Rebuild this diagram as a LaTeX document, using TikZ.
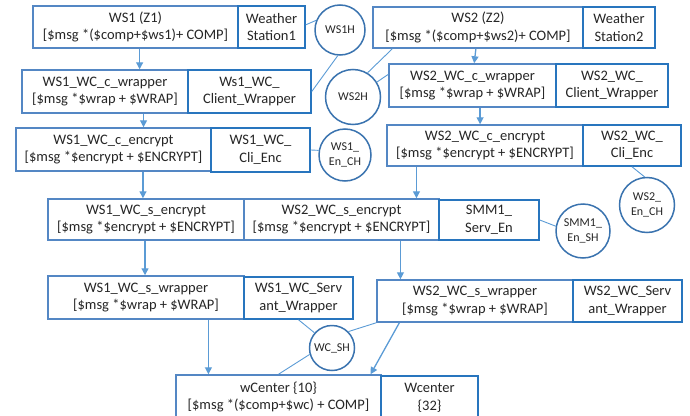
\documentclass[tikz,border=0pt]{standalone}
\usepackage{fontspec}
\setmainfont{Carlito}
\usetikzlibrary{calc,arrows.meta}
\definecolor{leftc}{RGB}{84,135,196}
\definecolor{rightc}{RGB}{40,117,190}
\definecolor{circc}{RGB}{58,115,175}
\definecolor{arrc}{RGB}{91,155,213}
\tikzset{
  lbox/.style={draw=leftc,line width=1.5pt,fill=white,align=center,inner sep=0pt,text=black!85,font=\fontsize{14.5}{17.5}\selectfont},
  rbox/.style={draw=rightc,line width=1.5pt,fill=white,align=center,inner sep=0pt,text=black!85,font=\fontsize{14.5}{17.5}\selectfont},
  circ/.style={draw=circc,line width=1.5pt,circle,fill=white,align=center,inner sep=0pt,text=black!85,font=\fontsize{12}{14.5}\selectfont},
  arr/.style={draw=arrc,line width=1.3pt,-{Triangle[length=7pt,width=7pt]}},
  lnk/.style={draw=arrc,line width=0.9pt}
}
\begin{document}
\begin{tikzpicture}[x=1pt,y=-1pt]
\useasboundingbox (0,0) rectangle (690,415);
% row 1
\node[lbox,minimum width=205pt,minimum height=42pt] (ws1) at (135.5,27) {WS1 (Z1)\\{[}\$msg *(\$comp+\$ws1)+ COMP{]}};
\node[rbox,minimum width=67pt,minimum height=42pt] (ws1st) at (271.5,27) {Weather\\Station1};
\node[circ,minimum size=50pt] (ws1h) at (340,30) {WS1H};
\node[lbox,minimum width=210pt,minimum height=41pt] (ws2) at (478,27.5) {WS2 (Z2)\\{[}\$msg *(\$comp+\$ws2)+ COMP{]}};
\node[rbox,minimum width=72pt,minimum height=41pt] (ws2st) at (619,27.5) {Weather\\Station2};
% row 2
\node[lbox,minimum width=166pt,minimum height=43pt] (c1wrap) at (105,91.5) {WS1\_WC\_c\_wrapper\\{[}\$msg *\$wrap + \$WRAP{]}};
\node[rbox,minimum width=123pt,minimum height=43pt] (c1cl) at (249.5,91.5) {Ws1\_WC\_\\Client\_Wrapper};
\node[circ,minimum size=55pt] (ws2h) at (353,97) {WS2H};
\node[lbox,minimum width=167pt,minimum height=43pt] (c2wrap) at (472.5,85.5) {WS2\_WC\_c\_wrapper\\{[}\$msg *\$wrap + \$WRAP{]}};
\node[rbox,minimum width=112pt,minimum height=43pt] (c2cl) at (612,85.5) {WS2\_WC\_\\Client\_Wrapper};
% row 3
\node[lbox,minimum width=195pt,minimum height=43pt] (c1enc) at (113.5,149.5) {WS1\_WC\_c\_encrypt\\{[}\$msg *\$encrypt + \$ENCRYPT{]}};
\node[rbox,minimum width=99pt,minimum height=44pt] (c1cli) at (260.5,150) {WS1\_WC\_\\Cli\_Enc};
\node[circ,minimum size=52pt] (ws1ench) at (345,155) {WS1\_\\En\_CH};
\node[lbox,minimum width=196pt,minimum height=41pt] (c2enc) at (485,145.5) {WS2\_WC\_c\_encrypt\\{[}\$msg *\$encrypt + \$ENCRYPT{]}};
\node[rbox,minimum width=98pt,minimum height=41pt] (c2cli) at (632,145.5) {WS2\_WC\_\\Cli\_Enc};
\node[circ,minimum size=55pt] (ws2ench) at (647,205) {WS2\_\\En\_CH};
% row 4
\node[lbox,minimum width=196pt,minimum height=41pt] (s1enc) at (146,219.5) {WS1\_WC\_s\_encrypt\\{[}\$msg *\$encrypt + \$ENCRYPT{]}};
\node[lbox,minimum width=195pt,minimum height=41pt] (s2enc) at (341.5,219.5) {WS2\_WC\_s\_encrypt\\{[}\$msg *\$encrypt + \$ENCRYPT{]}};
\node[rbox,minimum width=100pt,minimum height=40pt] (smm1) at (489,220) {SMM1\_\\Serv\_En};
\node[circ,minimum size=54pt] (smm1sh) at (583,231) {SMM1\_\\En\_SH};
% row 5
\node[lbox,minimum width=196pt,minimum height=43pt] (s1wrap) at (146,297.5) {WS1\_WC\_s\_wrapper\\{[}\$msg *\$wrap + \$WRAP{]}};
\node[rbox,minimum width=109pt,minimum height=42pt] (s1serv) at (298.5,298) {WS1\_WC\_Serv\\ant\_Wrapper};
\node[lbox,minimum width=196pt,minimum height=42pt] (s2wrap) at (475,301) {WS2\_WC\_s\_wrapper\\{[}\$msg *\$wrap + \$WRAP{]}};
\node[rbox,minimum width=109pt,minimum height=42pt] (s2serv) at (627.5,301) {WS2\_WC\_Serv\\ant\_Wrapper};
\node[circ,minimum size=45pt] (wcsh) at (332,348) {WC\_SH};
% row 6
\node[lbox,minimum width=205pt,minimum height=44pt] (wc) at (278.5,397) {wCenter \{10\}\\{[}\$msg *(\$comp+\$wc) + COMP{]}};
\node[rbox,minimum width=97pt,minimum height=44pt] (wc32) at (429.5,398) {Wcenter\\\{32\}};
% arrows
\coordinate (a1) at ($(ws1.south west)!0.52!(ws1.south east)$);
\draw[arr] (a1) -- (a1 |- c1wrap.north);
\coordinate (a2) at ($(c1wrap.south west)!0.73!(c1wrap.south east)$);
\draw[arr] (a2) -- (a2 |- c1enc.north);
\coordinate (a3) at ($(c1enc.south west)!0.65!(c1enc.south east)$);
\draw[arr] (a3) -- (a3 |- s1enc.north);
\coordinate (a4) at ($(s1enc.south west)!0.495!(s1enc.south east)$);
\draw[arr] (a4) -- (a4 |- s1wrap.north);
\coordinate (a5) at ($(s1wrap.south west)!0.816!(s1wrap.south east)$);
\draw[arr] (a5) -- (a5 |- wc.north);
\draw[arr] ($(ws2.south west)!0.49!(ws2.south east)$) -- ($(c2wrap.north west)!0.51!(c2wrap.north east)$);
\coordinate (a7) at ($(c2wrap.south west)!0.545!(c2wrap.south east)$);
\draw[arr] (a7) -- (a7 |- c2enc.north);
\coordinate (a8) at ($(c2enc.south west)!0.153!(c2enc.south east)$);
\draw[arr] (a8) -- (a8 |- s2enc.north);
\coordinate (a9) at ($(s2enc.south west)!0.8!(s2enc.south east)$);
\draw[arr] (a9) -- (a9 |- s2wrap.north);
\draw[arr] ($(s2wrap.south west)!0.117!(s2wrap.south east)$) -- ($(wc.north west)!0.946!(wc.north east)$);
% links
\draw[lnk] ($(ws1st.north east)!0.45!(ws1st.south east)$) -- (ws1h.158);
\draw[lnk] (ws1h.265) -- (c1cl.east);
\draw[lnk] ($(ws2.south west)!0.095!(ws2.south east)$) -- (ws2h.59);
\draw[lnk] ($(c2wrap.north west)!0.25!(c2wrap.south west)$) -- (ws2h.32);
\draw[lnk] ($(c1cli.north east)!0.5!(c1cli.south east)$) -- (ws1ench.170);
\draw[lnk] (c2cli.south) -- (ws2ench.95);
\draw[lnk] (smm1.east) -- (smm1sh.170);
\draw[lnk] (s1serv.south) -- (wcsh.139);
\draw[lnk] (wcsh.196) -- (wc.north);
\draw[lnk] (s2wrap.south west) -- (wcsh.45);
\end{tikzpicture}
\end{document}
